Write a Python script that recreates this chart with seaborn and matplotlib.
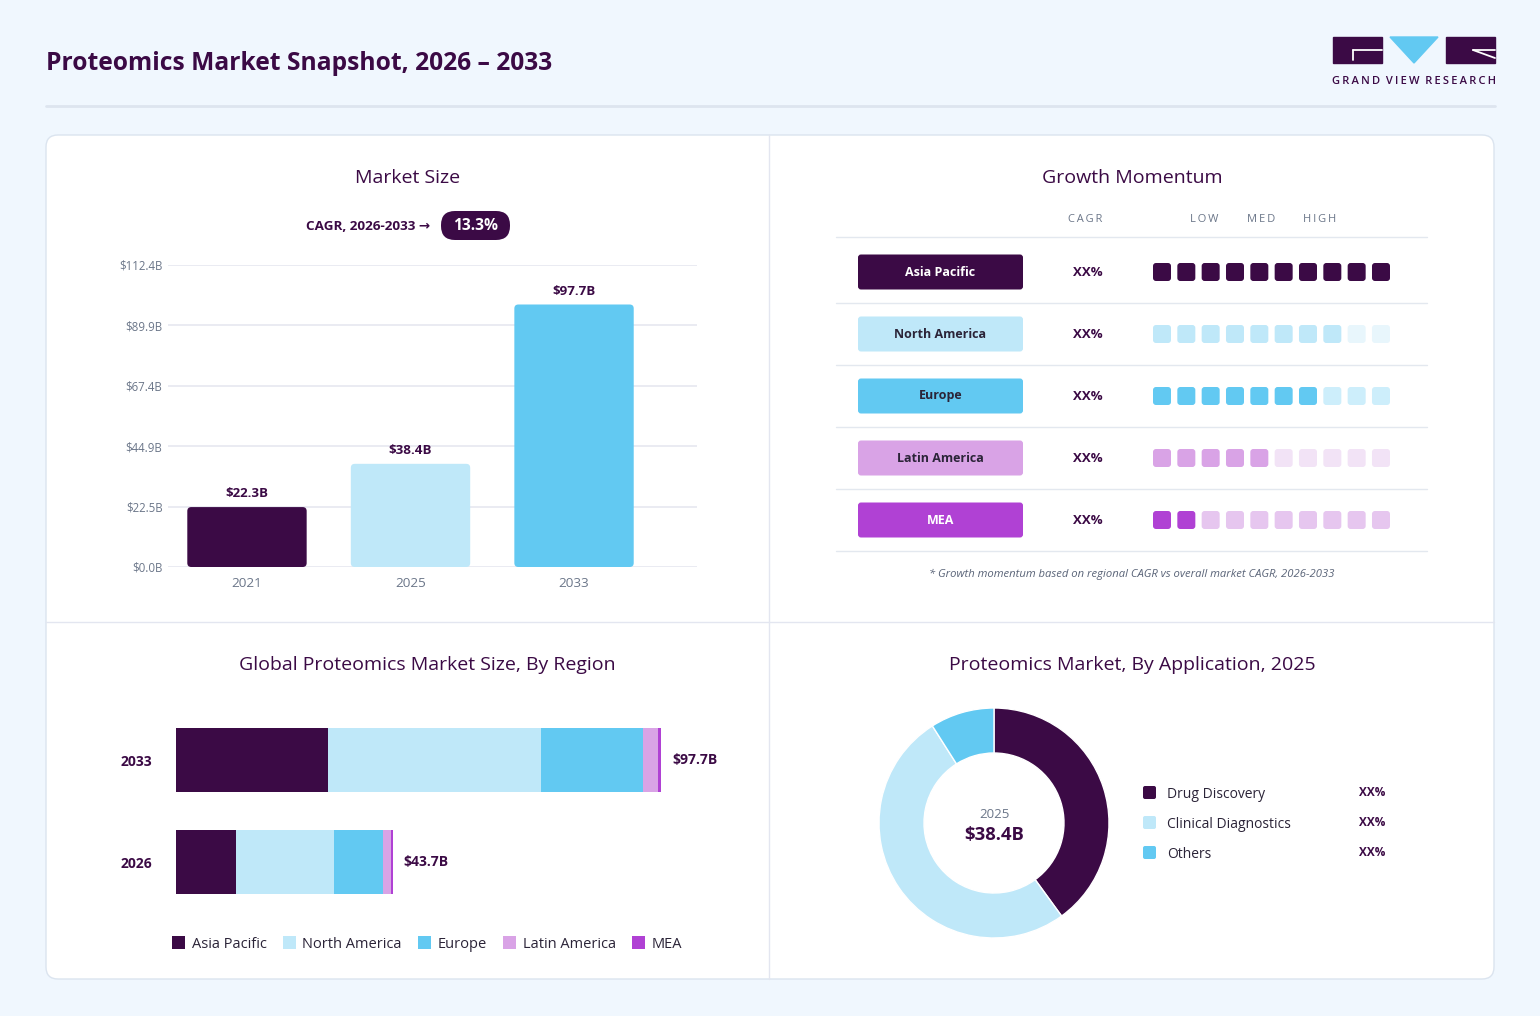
import numpy as np
import pandas as pd
import matplotlib
matplotlib.use("Agg")
import matplotlib.pyplot as plt
import seaborn as sns
from matplotlib.patches import FancyBboxPatch, Rectangle, Polygon, Patch

# -------------------------------
# DATA
# -------------------------------
years = ["2021", "2025", "2033"]
market_size = [22.3, 38.4, 97.7]
y_ticks = [0.0, 22.5, 44.9, 67.4, 89.9, 112.4]
cagr_value = "13.3%"

regions = ["Asia Pacific", "North America", "Europe", "Latin America", "MEA"]
region_cagr = ["XX%", "XX%", "XX%", "XX%", "XX%"]
momentum_filled = [10, 8, 7, 5, 2]
momentum_slots = 10

stack_years = ["2033", "2026"]
ap_vals = [30.6, 12.1]
na_vals = [42.9, 19.8]
eu_vals = [20.5, 9.8]
la_vals = [3.0, 1.6]
mea_vals = [0.7, 0.4]
stack_labels = ["$97.7B", "$43.7B"]

apps = ["Drug Discovery", "Clinical Diagnostics", "Others"]
app_share = [40, 51, 9]
app_pct = ["XX%", "XX%", "XX%"]
donut_year = "2025"
donut_total = "$38.4B"

# -------------------------------
# STYLE
# -------------------------------
DARK = "#3b0a45"
NA_C = "#bfe8f9"
EU_C = "#62c9f2"
LA_C = "#d9a3e6"
MEA_C = "#b041d4"
BG = "#f0f7fe"
GRID = "#e6e8f0"
GRAY = "#6b7689"
TXT = "#2b2438"

region_colors = [DARK, NA_C, EU_C, LA_C, MEA_C]
region_empty = [DARK, "#e8f6fc", "#cdeefb", "#f2e3f6", "#e6c6ef"]
badge_text = ["white", TXT, TXT, TXT, "white"]

sns.set_theme(style="white")
plt.rcParams["font.family"] = ["Open Sans", "DejaVu Sans"]

W, H = 1540, 1016
fig = plt.figure(figsize=(W / 100, H / 100), dpi=100, facecolor=BG)


def px_axes(x0, y0, x1, y1):
    a = fig.add_axes([x0 / W, 1 - y1 / H, (x1 - x0) / W, (y1 - y0) / H])
    a.set_facecolor("none")
    return a


def spaced(s, sep="\u2009"):
    return sep.join(s)


def rbox(x, y, w, h, r, xpp=1.0, ypp=1.0, **kw):
    return FancyBboxPatch((x, y), w, h,
                          boxstyle=f"round,pad=0,rounding_size={r * xpp}",
                          mutation_aspect=ypp / xpp, **kw)


# background canvas in pixel units
bg = fig.add_axes([0, 0, 1, 1])
bg.set_xlim(0, W)
bg.set_ylim(H, 0)
bg.axis("off")

bg.text(46, 63, "Proteomics Market Snapshot, 2026 \u2013 2033", fontsize=17.7,
        weight="bold", color=DARK, va="center", ha="left")
bg.plot([46, 1495], [106, 106], color="#dde5ef", lw=2)

# logo
bg.add_patch(Rectangle((1333, 37), 49, 26, color=DARK))
bg.plot([1353, 1382], [50, 50], color="white", lw=1.3)
bg.plot([1353, 1353], [50, 60], color="white", lw=1.3)
bg.add_patch(Polygon([(1390, 37), (1438, 37), (1414, 63)], color=EU_C))
bg.add_patch(Rectangle((1446, 37), 49, 26, color=DARK))
bg.plot([1473, 1495], [50, 50], color="white", lw=1.3)
bg.plot([1473, 1495], [50, 58], color="white", lw=1.3)
bg.text(1414, 81, "  ".join(spaced(w) for w in "GRAND VIEW RESEARCH".split(" ")),
        fontsize=8, weight="semibold", color=DARK, ha="center", va="center")

# card + dividers
bg.add_patch(rbox(46, 135, 1448, 844, 12, fc="white", ec="#dbe4ef", lw=1))
bg.plot([769, 769], [135, 979], color="#e3e6f0", lw=1)
bg.plot([46, 1494], [622, 622], color="#e3e6f0", lw=1)

# panel titles
for tx, ty, t in [(408, 178, "Market Size"), (1132, 178, "Growth Momentum"),
                  (427, 665, "Global Proteomics Market Size, By Region"),
                  (1132, 665, "Proteomics Market, By Application, 2025")]:
    bg.text(tx, ty, t, fontsize=14, color=DARK, ha="center", va="center")

# -------------------------------
# MARKET SIZE BARS
# -------------------------------
ms = px_axes(168, 265, 697, 567)
df_ms = pd.DataFrame({"year": years, "size": market_size})
sns.barplot(data=df_ms, x="year", y="size", hue="year", palette=[DARK, NA_C, EU_C],
            saturation=1, width=0.73, legend=False, ax=ms)
xl = (-0.483, 2.752)
ms.set_xlim(*xl)
ms.set_ylim(0, 112.4)
xpp = (xl[1] - xl[0]) / (697 - 168)
ypp = 112.4 / (567 - 265)
for p in list(ms.patches):
    x, y, w, h = p.get_x(), p.get_y(), p.get_width(), p.get_height()
    fc = p.get_facecolor()
    p.remove()
    ms.add_patch(rbox(x, y, w, h, 4, xpp, ypp, fc=fc, ec="none", zorder=3))
for i, v in enumerate(market_size):
    ms.annotate(f"${v:.1f}B", (i, v), xytext=(0, 5), textcoords="offset points",
                ha="center", va="bottom", fontsize=9.6, weight="bold", color=DARK)
ms.set_yticks(y_ticks)
ms.set_yticklabels([f"${t:.1f}B" for t in y_ticks])
ms.yaxis.grid(True, color=GRID, lw=1.2)
ms.set_axisbelow(True)
sns.despine(ax=ms, left=True, bottom=True)
ms.tick_params(axis="y", length=0, pad=4, labelsize=8.3, labelcolor=GRAY)
ms.tick_params(axis="x", length=0, pad=7.5, labelsize=9.7, labelcolor=GRAY)
ms.set_xlabel("")
ms.set_ylabel("")

bg.text(430, 226, "CAGR, 2026-2033 \u2192", fontsize=9.7, weight="bold", color=DARK,
        ha="right", va="center")
bg.add_patch(rbox(441, 211, 69, 29, 14, fc=DARK, ec="none"))
bg.text(475.5, 226, cagr_value, fontsize=11.2, weight="bold", color="white",
        ha="center", va="center")

# -------------------------------
# GROWTH MOMENTUM
# -------------------------------
for t, hx in [("CAGR", 1085), ("LOW", 1204), ("MED", 1261), ("HIGH", 1320)]:
    bg.text(hx, 219, spaced(t), fontsize=8, color=GRAY, ha="center", va="center")
for ly in [237, 303, 365, 427, 489, 551]:
    bg.plot([836, 1427], [ly, ly], color="#e3e8ef", lw=1)
for i, reg in enumerate(regions):
    cy = 272 + 62 * i
    bg.add_patch(rbox(858, cy - 17.5, 165, 35, 3, fc=region_colors[i], ec="none"))
    bg.text(940.5, cy, reg, fontsize=9, weight="bold", color=badge_text[i],
            ha="center", va="center")
    bg.text(1088, cy, region_cagr[i], fontsize=9.5, weight="bold", color=DARK,
            ha="center", va="center")

sq = px_axes(1153, 241, 1390, 551)
sq.set_xlim(0, 9.74)
sq.set_ylim(4.5, -0.5)
sq.axis("off")
sxpp = 9.74 / (1390 - 1153)
sypp = 5.0 / (551 - 241)
for i in range(len(regions)):
    for j in range(momentum_slots):
        c = region_colors[i] if j < momentum_filled[i] else region_empty[i]
        sq.add_patch(rbox(j, i - 9 * sypp, 18 * sxpp, 18 * sypp, 3, sxpp, sypp,
                          fc=c, ec="none"))

bg.text(1132, 574, "* Growth momentum based on regional CAGR vs overall market CAGR, 2026-2033",
        fontsize=8.15, style="italic", color="#5a6478", ha="center", va="center")

# -------------------------------
# STACKED REGION BARS
# -------------------------------
sb = px_axes(176, 709, 720, 913)
layers = [ap_vals, na_vals, eu_vals, la_vals, mea_vals]
cum = np.cumsum(np.array(layers), axis=0)
for k in range(len(layers) - 1, -1, -1):
    sns.barplot(x=cum[k], y=stack_years, color=region_colors[k], saturation=1,
                orient="h", width=0.62, linewidth=0, ax=sb)
sb.set_xlim(0, 544 / 4.964)
sb.set_ylim(1.5, -0.5)
for i, lbl in enumerate(stack_labels):
    sb.text(cum[-1][i] + 2.2, i, lbl, fontsize=10, weight="bold", color=DARK,
            ha="left", va="center")
sns.despine(ax=sb, left=True, bottom=True)
sb.set_xticks([])
sb.tick_params(axis="y", length=0, pad=17, labelsize=10)
for t in sb.get_yticklabels():
    t.set_fontweight("bold")
    t.set_color(DARK)
sb.set_xlabel("")
sb.set_ylabel("")

handles = [Patch(fc=c, ec="none") for c in region_colors]
bg.legend(handles, regions, loc="center", bbox_to_anchor=(427, 944),
          bbox_transform=bg.transData, ncol=5, frameon=False, fontsize=10.5,
          handlelength=0.9, handleheight=0.9, handletextpad=0.45, columnspacing=1.1,
          labelcolor=TXT)

# -------------------------------
# DONUT
# -------------------------------
dn = px_axes(879, 708, 1109, 938)
dn.pie(app_share, colors=[DARK, NA_C, EU_C], startangle=90, counterclock=False,
       radius=1, wedgeprops=dict(width=45 / 115, edgecolor="white", linewidth=1))
dn.set_xlim(-1, 1)
dn.set_ylim(-1, 1)
dn.set_aspect("equal")
dn.text(0, 0.078, donut_year, fontsize=9.5, color=GRAY, ha="center", va="center")
dn.text(0, -0.104, donut_total, fontsize=13.3, weight="bold", color=DARK,
        ha="center", va="center")

for i, a in enumerate(apps):
    cy = 793 + 30 * i
    bg.add_patch(rbox(1143, cy - 7, 13, 13, 2, fc=[DARK, NA_C, EU_C][i], ec="none"))
    bg.text(1167, cy + 1, a, fontsize=10, color=TXT, ha="left", va="center")
    bg.text(1372, cy, app_pct[i], fontsize=8.5, weight="bold", color=DARK,
            ha="center", va="center")

fig.savefig("out.png", dpi=100, facecolor=BG)
